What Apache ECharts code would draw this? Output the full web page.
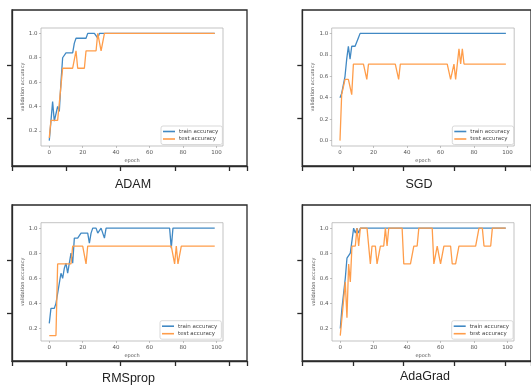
<!DOCTYPE html>
<html>
<head>
<meta charset="utf-8">
<script src="https://cdn.jsdelivr.net/npm/echarts@6/dist/echarts.min.js"></script>
<style>
html,body{margin:0;padding:0;background:#fff;}
#c{width:531px;height:390px;}
</style>
</head>
<body>
<div id="c"></div>
<script>
// ---------- data ----------
const panelTitles = ['ADAM', 'SGD', 'RMSprop', 'AdaGrad'];
const seriesNames = ['train accuracy', 'test accuracy'];
const xTicks = [0, 20, 40, 60, 80, 100];
const yTicksA = [0.2, 0.4, 0.6, 0.8, 1.0];
const yTicksB = [0.0, 0.2, 0.4, 0.6, 0.8, 1.0];

const adamTrain = [0.12,0.28,0.44,0.28,0.28,0.40,0.36,0.60,0.80,0.80,
0.84,0.84,0.84,0.84,0.84,0.92,0.96,0.96,0.96,0.96,
0.96,0.96,0.96,1,1,1,1,1,1,0.96,
1,1,1,1,1,1,1,1,1,1,
1,1,1,1,1,1,1,1,1,1,
1,1,1,1,1,1,1,1,1,1,
1,1,1,1,1,1,1,1,1,1,
1,1,1,1,1,1,1,1,1,1,
1,1,1,1,1,1,1,1,1,1,
1,1,1,1,1,1,1,1,1,1];
const adamTest = [0.143,0.286,0.286,0.286,0.286,0.286,0.286,0.571,0.714,0.714,
0.714,0.714,0.714,0.714,0.714,0.714,0.857,0.714,0.714,0.714,
0.714,0.714,0.857,0.857,0.857,0.857,0.857,0.857,0.857,1,
1,0.857,0.857,1,1,1,1,1,1,1,
1,1,1,1,1,1,1,1,1,1,
1,1,1,1,1,1,1,1,1,1,
1,1,1,1,1,1,1,1,1,1,
1,1,1,1,1,1,1,1,1,1,
1,1,1,1,1,1,1,1,1,1,
1,1,1,1,1,1,1,1,1,1];

const sgdTrain = [0.40,0.44,0.44,0.60,0.76,0.88,0.76,0.88,0.88,0.88,
0.88,0.96,1,1,1,1,1,1,1,1,
1,1,1,1,1,1,1,1,1,1,
1,1,1,1,1,1,1,1,1,1,
1,1,1,1,1,1,1,1,1,1,
1,1,1,1,1,1,1,1,1,1,
1,1,1,1,1,1,1,1,1,1,
1,1,1,1,1,1,1,1,1,1,
1,1,1,1,1,1,1,1,1,1,
1,1,1,1,1,1,1,1,1,1];
const sgdTest = [0,0.429,0.429,0.571,0.571,0.571,0.571,0.429,0.714,0.714,
0.714,0.714,0.714,0.714,0.714,0.714,0.571,0.714,0.714,0.714,
0.714,0.714,0.714,0.714,0.714,0.714,0.714,0.714,0.714,0.714,
0.714,0.714,0.714,0.714,0.714,0.571,0.714,0.714,0.714,0.714,
0.714,0.714,0.714,0.714,0.714,0.714,0.714,0.714,0.714,0.714,
0.714,0.714,0.714,0.714,0.714,0.714,0.714,0.714,0.714,0.714,
0.714,0.714,0.714,0.714,0.714,0.714,0.571,0.571,0.714,0.571,
0.571,0.857,0.714,0.857,0.714,0.714,0.714,0.714,0.714,0.714,
0.714,0.714,0.714,0.714,0.714,0.714,0.714,0.714,0.714,0.714,
0.714,0.714,0.714,0.714,0.714,0.714,0.714,0.714,0.714,0.714];

const rmsTrain = [0.24,0.36,0.36,0.36,0.40,0.48,0.48,0.64,0.60,0.68,
0.72,0.64,0.72,0.80,0.72,0.92,0.92,0.92,0.92,0.96,
0.96,0.96,0.96,0.96,0.88,0.96,1,1,1,0.96,
0.96,1,0.96,0.92,1,1,1,1,1,1,
1,1,1,1,1,1,1,1,1,1,
1,1,1,1,1,1,1,1,1,1,
1,1,1,1,1,1,1,1,1,1,
1,1,1,0.84,1,1,1,1,1,1,
1,1,1,1,1,1,1,1,1,1,
1,1,1,1,1,1,1,1,1,1];
const rmsTest = [0.143,0.143,0.143,0.143,0.143,0.714,0.714,0.714,0.714,0.714,
0.714,0.714,0.714,0.714,0.857,0.857,0.857,0.857,0.857,0.857,
0.857,0.857,0.714,0.857,0.857,0.857,0.857,0.857,0.857,0.857,
0.857,0.857,0.857,0.857,0.857,0.857,0.857,0.857,0.857,0.857,
0.857,0.857,0.857,0.857,0.857,0.857,0.857,0.857,0.857,0.857,
0.857,0.857,0.857,0.857,0.857,0.857,0.857,0.857,0.857,0.857,
0.857,0.857,0.857,0.857,0.857,0.857,0.857,0.857,0.857,0.857,
0.857,0.857,0.857,0.857,0.857,0.714,0.857,0.714,0.714,0.857,
0.857,0.857,0.857,0.857,0.857,0.857,0.857,0.857,0.857,0.857,
0.857,0.857,0.857,0.857,0.857,0.857,0.857,0.857,0.857,0.857];

const adaTrain = [0.20,0.36,0.48,0.60,0.76,0.76,0.80,0.80,1,0.96,
1,0.96,1,1,1,1,1,1,1,1,
1,1,1,1,1,1,1,1,1,1,
1,1,1,1,1,1,1,1,1,1,
1,1,1,1,1,1,1,1,1,1,
1,1,1,1,1,1,1,1,1,1,
1,1,1,1,1,1,1,1,1,1,
1,1,1,1,1,1,1,1,1,1,
1,1,1,1,1,1,1,1,1,1,
1,1,1,1,1,1,1,1,1,1];
const adaTest = [0.143,0.286,0.286,0.571,0.286,0.714,0.571,0.857,0.857,0.857,
1,0.857,1,1,1,1,1,1,0.714,0.857,
0.857,0.857,0.714,0.714,0.857,0.857,0.857,1,0.857,1,
1,1,1,1,1,1,1,1,0.714,0.714,
0.714,0.714,0.714,0.714,0.857,0.857,0.857,1,1,1,
1,1,1,1,1,1,0.714,0.714,0.857,0.857,
0.714,0.714,0.857,0.857,0.857,0.857,0.857,0.714,0.714,0.714,
0.714,0.857,0.857,0.857,0.857,0.857,0.857,0.857,0.857,0.857,
0.857,0.857,0.857,1,1,1,0.857,0.857,0.857,0.857,
0.857,1,1,1,1,1,1,1,1,1];

const epochs = adamTrain.map((_, i) => i);

// ---------- layout ----------
const TRAIN = '#4189c4';
const TEST = '#ff9d4a';
const panels = [
  {train: adamTrain, test: adamTest, inner: [41, 28, 182, 118], outer: [12, 10, 235, 156], ymin: 0.076, ymax: 1.044, yt: yTicksA, legend: [161, 126], title: [133, 184.5]},
  {train: sgdTrain, test: sgdTest, inner: [331.7, 28, 182.5, 118], outer: [302.3, 10, 245, 156], ymin: -0.05, ymax: 1.05, yt: yTicksB, legend: [452.3, 126], title: [419, 184.5]},
  {train: rmsTrain, test: rmsTest, inner: [41, 222.7, 182, 118.3], outer: [12, 205, 235, 156], ymin: 0.1, ymax: 1.043, yt: yTicksA, legend: [160, 320.7], title: [128.5, 378.7]},
  {train: adaTrain, test: adaTest, inner: [332, 222.7, 182, 118.3], outer: [302.3, 205, 245, 156], ymin: 0.1, ymax: 1.043, yt: yTicksA, legend: [451.7, 320.7], title: [425, 376.2]}
];

const grid = [], xAxis = [], yAxis = [], series = [], legend = [], graphic = [];
const TICKFONT = 'DejaVu Sans';

panels.forEach((p, i) => {
  grid.push({left: p.inner[0], top: p.inner[1], width: p.inner[2], height: p.inner[3],
    show: true, borderColor: '#b4b4b4', borderWidth: 0.8, backgroundColor: '#fff', containLabel: false});
  xAxis.push({type: 'value', gridIndex: i, min: -4.95, max: 103.95,
    name: 'epoch', nameLocation: 'middle', nameGap: 12.5,
    nameTextStyle: {fontSize: 5, color: '#555', fontFamily: TICKFONT},
    axisLine: {show: false, onZero: false}, splitLine: {show: false},
    axisTick: {show: true, length: 2, inside: false, customValues: xTicks, lineStyle: {color: '#999', width: 0.6}},
    axisLabel: {customValues: xTicks, fontSize: 5.5, color: '#555', margin: 3.5, fontFamily: TICKFONT}
  });
  yAxis.push({type: 'value', gridIndex: i, min: p.ymin, max: p.ymax,
    name: 'validation accuracy', nameLocation: 'middle', nameGap: 15.5, nameRotate: 90,
    nameTextStyle: {fontSize: 5, color: '#555', fontFamily: TICKFONT},
    axisLine: {show: false, onZero: false}, splitLine: {show: false},
    axisTick: {show: true, length: 2, inside: false, customValues: p.yt, lineStyle: {color: '#999', width: 0.6}},
    axisLabel: {customValues: p.yt, fontSize: 5.5, color: '#555', margin: 3.5, fontFamily: TICKFONT,
      formatter: v => Number(v).toFixed(1)}
  });
  series.push({type: 'line', name: seriesNames[0], xAxisIndex: i, yAxisIndex: i,
    data: p.train.map((v, k) => [epochs[k], v]), showSymbol: false, symbol: 'none',
    lineStyle: {width: 1.3, color: TRAIN}, itemStyle: {color: TRAIN}, animation: false, z: 3});
  series.push({type: 'line', name: seriesNames[1], xAxisIndex: i, yAxisIndex: i,
    data: p.test.map((v, k) => [epochs[k], v]), showSymbol: false, symbol: 'none',
    lineStyle: {width: 1.3, color: TEST}, itemStyle: {color: TEST}, animation: false, z: 4});
  legend.push({left: p.legend[0], top: p.legend[1], orient: 'vertical', data: seriesNames,
    icon: 'rect', itemWidth: 12, itemHeight: 1.6, itemGap: 1.5, padding: [2.5, 4, 2.5, 2],
    textStyle: {fontSize: 5.5, color: '#444', fontFamily: TICKFONT, padding: [0, 0, 0, -1]},
    backgroundColor: '#fff', borderColor: '#cfcfcf', borderWidth: 0.8, borderRadius: 2,
    selectedMode: false});
  graphic.push({type: 'text', x: p.title[0], y: p.title[1], silent: true,
    style: {text: panelTitles[i], fill: '#222', font: '12.5px "Liberation Sans", Arial, sans-serif',
      align: 'center', verticalAlign: 'middle'}});
});

// outer frames (the figure axes the four plots were pasted into)
const outerStart = grid.length;
panels.forEach((p, i) => {
  const gi = outerStart + i;
  grid.push({left: p.outer[0], top: p.outer[1], width: p.outer[2], height: p.outer[3],
    show: true, borderColor: '#2a2a2a', borderWidth: 1.3, backgroundColor: 'transparent', z: 0});
  xAxis.push({type: 'value', gridIndex: gi, min: 0, max: p.outer[2] / 54.25, interval: 1,
    axisLine: {show: true, onZero: false, lineStyle: {color: '#2a2a2a', width: 1.3}},
    axisTick: {show: true, length: 5, inside: false, lineStyle: {color: '#2a2a2a', width: 1.3}},
    axisLabel: {show: false}, splitLine: {show: false}});
  yAxis.push({type: 'value', gridIndex: gi, min: 0, max: 1,
    axisLine: {show: true, onZero: false, lineStyle: {color: '#2a2a2a', width: 1.3}},
    axisTick: {show: true, length: 5, inside: false, customValues: [0.308, 0.647], lineStyle: {color: '#2a2a2a', width: 1.3}},
    axisLabel: {show: false}, splitLine: {show: false}});
});

const chart = echarts.init(document.getElementById('c'), null, {renderer: 'canvas'});
chart.setOption({
  animation: false,
  backgroundColor: '#fff',
  grid, xAxis, yAxis, series, legend, graphic
});
</script>
</body>
</html>
